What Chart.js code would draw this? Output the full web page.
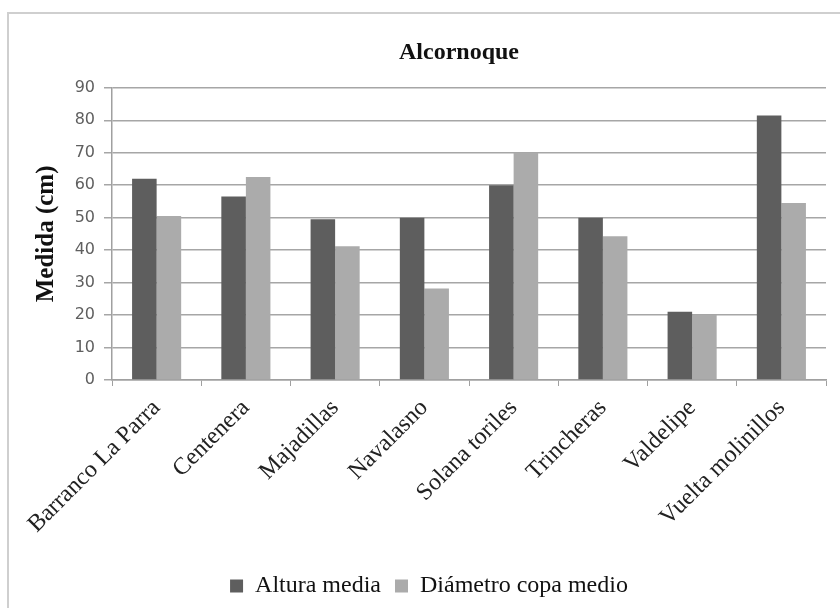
<!DOCTYPE html>
<html>
<head>
<meta charset="utf-8">
<script src="https://cdn.jsdelivr.net/npm/chart.js@4.4.0/dist/chart.umd.min.js"></script>
<style>
    html, body { margin: 0; padding: 0; background: #fff; }
    #wrap { position: relative; width: 840px; height: 608px; }
    #frame { position: absolute; left: 7px; top: 12px; width: 840px; height: 610px; border: 2px solid #cfcfcf; box-sizing: border-box; }
    canvas { position: absolute; left: 0; top: 0; }
</style>
</head>
<body>
<div id="wrap">
    <div id="frame"></div>
    <canvas id="chart" width="840" height="608"></canvas>
</div>
<script>
// Alcornoque - measurements per site
const sites = ['Barranco La Parra', 'Centenera', 'Majadillas', 'Navalasno', 'Solana toriles', 'Trincheras', 'Valdelipe', 'Vuelta molinillos'];
const alturaMedia = [62, 56.5, 49.5, 50, 60, 50, 21, 81.5];
const diametroCopa = [50.5, 62.5, 41.2, 28.2, 70, 44.3, 20, 54.5];
const yTicks = [0, 10, 20, 30, 40, 50, 60, 70, 80, 90];

const serif = '"Liberation Serif", "Times New Roman", serif';

// center the title over the plot area, like the spreadsheet original
const centerTitle = {
    id: 'centerTitle',
    afterLayout(chart) {
        const t = chart.titleBlock;
        if (t) {
            t.left = chart.chartArea.left - 20;
            t.right = chart.chartArea.right;
            t.width = t.right - t.left;
        }
    }
};

window.addEventListener('load', () => {
    const ctx = document.getElementById('chart').getContext('2d');
    new Chart(ctx, {
        type: 'bar',
        data: {
            labels: sites,
            datasets: [{
                label: 'Altura media',
                data: alturaMedia,
                backgroundColor: '#5e5e5e',
                categoryPercentage: 0.55,
                barPercentage: 1.0
            }, {
                label: 'Diámetro copa medio',
                data: diametroCopa,
                backgroundColor: '#ababab',
                categoryPercentage: 0.55,
                barPercentage: 1.0
            }]
        },
        options: {
            responsive: false,
            animation: false,
            layout: { padding: { left: 32, right: 14, top: 0, bottom: 0 } },
            plugins: {
                title: {
                    display: true,
                    text: 'Alcornoque',
                    color: '#111',
                    font: { family: serif, size: 24, weight: 'bold' },
                    padding: { top: 38, bottom: 21 }
                },
                legend: {
                    position: 'bottom',
                    labels: {
                        color: '#111',
                        font: { family: serif, size: 24 },
                        boxWidth: 13,
                        boxHeight: 13,
                        padding: 14
                    }
                },
                tooltip: { enabled: false }
            },
            scales: {
                x: {
                    grid: { display: true, drawOnChartArea: false, offset: true, color: '#a0a0a0', tickLength: 6 },
                    border: { color: '#a0a0a0', width: 1.5 },
                    ticks: {
                        color: '#222',
                        font: { family: serif, size: 24 },
                        minRotation: 45,
                        maxRotation: 45,
                        padding: 8
                    },
                    afterFit(scale) { scale.height = 180; }
                },
                y: {
                    min: 0,
                    max: 90,
                    afterBuildTicks(scale) { scale.ticks = yTicks.map(v => ({ value: v })); },
                    grid: { color: '#a6a6a6', lineWidth: 1.5, tickLength: 8 },
                    border: { color: '#a0a0a0', width: 1.5 },
                    ticks: {
                        color: '#5f5f5f',
                        font: { family: '"DejaVu Sans", Verdana, sans-serif', size: 16 },
                        padding: 9
                    },
                    title: {
                        display: true,
                        text: 'Medida (cm)',
                        color: '#111',
                        font: { family: serif, size: 25, weight: 'bold' },
                        padding: { top: 0, bottom: 0 }
                    },
                    afterFit(scale) { scale.width = 80; }
                }
            }
        },
        plugins: [centerTitle]
    });
});
</script>
</body>
</html>
